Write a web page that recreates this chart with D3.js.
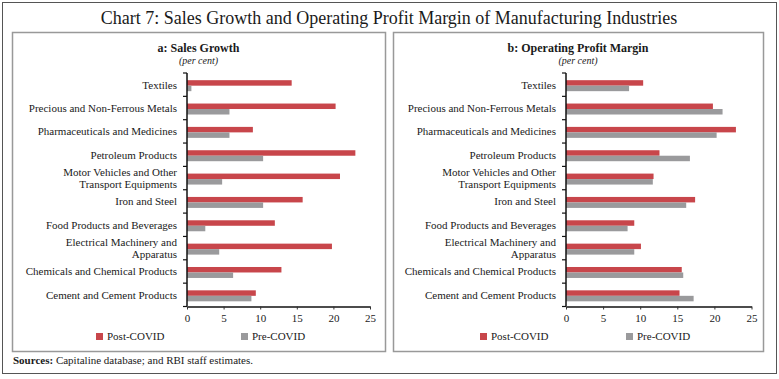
<!DOCTYPE html>
<html><head><meta charset="utf-8">
<script src="https://cdn.jsdelivr.net/npm/d3@7"></script>
<style>
html,body{margin:0;padding:0;background:#fff;}
svg{display:block;}
text{font-family:"Liberation Serif","DejaVu Serif",serif;fill:#1a1a1a;}
</style></head><body>
<svg id="c" width="779" height="379"></svg>
<script>
const categories = ["Textiles","Precious and Non-Ferrous Metals","Pharmaceuticals and Medicines","Petroleum Products","Motor Vehicles and Other Transport Equipments","Iron and Steel","Food Products and Beverages","Electrical Machinery and Apparatus","Chemicals and Chemical Products","Cement and Cement Products"];
const categoryLines = [["Textiles"],["Precious and Non-Ferrous Metals"],["Pharmaceuticals and Medicines"],["Petroleum Products"],["Motor Vehicles and Other","Transport Equipments"],["Iron and Steel"],["Food Products and Beverages"],["Electrical Machinery and","Apparatus"],["Chemicals and Chemical Products"],["Cement and Cement Products"]];
const seriesNames = ["Post-COVID","Pre-COVID"];
const salesPost = [14.3, 20.3, 9.0, 23.0, 20.9, 15.8, 12.0, 19.8, 12.9, 9.4];
const salesPre  = [0.6, 5.8, 5.8, 10.4, 4.8, 10.4, 2.5, 4.4, 6.3, 8.8];
const opmPost   = [10.4, 19.8, 22.9, 12.6, 11.8, 17.4, 9.2, 10.1, 15.6, 15.3];
const opmPre    = [8.5, 21.1, 20.3, 16.7, 11.7, 16.2, 8.3, 9.2, 15.8, 17.2];
const xTicks = [0,5,10,15,20,25];
const title = "Chart 7: Sales Growth and Operating Profit Margin of Manufacturing Industries";
const panelTitles = ["a: Sales Growth","b: Operating Profit Margin"];
const unitLabel = "(per cent)";

const colors = ["#c8464b","#9a9a9c"];
const svg = d3.select("#c");

// outer frame
svg.append("rect").attr("x",2.5).attr("y",2.5).attr("width",774).attr("height",371)
  .attr("fill","none").attr("stroke","#555").attr("stroke-width",1);

svg.append("text").attr("x",389).attr("y",24).attr("text-anchor","middle")
  .style("font-size","18px").text(title);

function panel(cfg){
  const g = svg.append("g");
  g.append("rect").attr("x",cfg.bx+0.5).attr("y",32.5).attr("width",cfg.bw).attr("height",319)
    .attr("fill","none").attr("stroke","#999").attr("stroke-width",1.5);
  const cx = cfg.bx + cfg.bw/2;
  g.append("text").attr("x",cx).attr("y",52).attr("text-anchor","middle")
    .style("font-size","12px").style("font-weight","bold").text(cfg.title);
  g.append("text").attr("x",cx).attr("y",64).attr("text-anchor","middle")
    .style("font-size","10px").style("font-style","italic").text(unitLabel);

  const x = d3.scaleLinear().domain([0,25]).range([cfg.x0,cfg.x1]);
  const y = d3.scaleBand().domain(categories).range([73,306.5]).paddingInner(0.53).paddingOuter(0.265);
  const yb = d3.scaleBand().domain(categories).range([73,306.5]);
  const ys = d3.scaleBand().domain([0,1]).range([0,y.bandwidth()]);

  const data = categories.map((c,i)=>({c, v:[cfg.post[i],cfg.pre[i]]}));
  const rows = g.selectAll("g.row").data(data).enter().append("g")
    .attr("transform",d=>`translate(0,${y(d.c)+1})`);
  rows.selectAll("rect").data(d=>d.v).enter().append("rect")
    .attr("x",x(0)).attr("y",(d,i)=>ys(i)).attr("height",ys.bandwidth())
    .attr("width",d=>x(d)-x(0)).attr("fill",(d,i)=>colors[i]);

  // category labels
  categories.forEach((c,i)=>{
    const lines = categoryLines[i];
    const yc = yb(c)+yb.bandwidth()/2;
    lines.forEach((ln,j)=>{
      g.append("text").attr("x",cfg.x0-10).attr("y",yc+(j-(lines.length-1)/2)*12.5)
        .attr("dy","0.35em").attr("text-anchor","end").style("font-size","11px").text(ln);
    });
  });

  // y axis with ticks at band boundaries
  const yAxisG = g.append("g");
  yAxisG.append("line").attr("x1",x(0)).attr("x2",x(0)).attr("y1",73).attr("y2",306.5)
    .attr("stroke","#111").attr("stroke-width",1.5);
  const bounds = categories.map(c=>yb(c)).concat([306.5]);
  yAxisG.selectAll("line.t").data(bounds).enter().append("line").attr("class","t")
    .attr("x1",x(0)-4).attr("x2",x(0)).attr("y1",d=>d).attr("y2",d=>d)
    .attr("stroke","#111").attr("stroke-width",1.2);

  // x axis
  const xa = d3.axisBottom(x).tickValues(xTicks).tickSize(3).tickSizeOuter(0).tickPadding(5);
  const xg = g.append("g").attr("transform","translate(0,306.5)").call(xa);
  xg.select(".domain").attr("stroke","#111").attr("stroke-width",1.5);
  xg.selectAll(".tick line").attr("stroke","#333");
  xg.selectAll(".tick text").style("font-size","11px").style("font-family",'"Liberation Serif",serif').attr("fill","#1a1a1a");

  // legend
  const lg = g.append("g");
  seriesNames.forEach((s,i)=>{
    const lx = cfg.legX[i];
    lg.append("rect").attr("x",lx).attr("y",333).attr("width",7).attr("height",7).attr("fill",colors[i]);
    lg.append("text").attr("x",lx+11).attr("y",340).style("font-size","11px").text(s);
  });
}

panel({bx:12,bw:373,x0:187,x1:370,title:panelTitles[0],post:salesPost,pre:salesPre,legX:[96,241]});
panel({bx:393,bw:370,x0:566,x1:751.5,title:panelTitles[1],post:opmPost,pre:opmPre,legX:[480,626]});

const src = svg.append("text").attr("x",13).attr("y",364).style("font-size","11px");
src.append("tspan").style("font-weight","bold").text("Sources:");
src.append("tspan").text(" Capitaline database; and RBI staff estimates.");
</script>
</body></html>
